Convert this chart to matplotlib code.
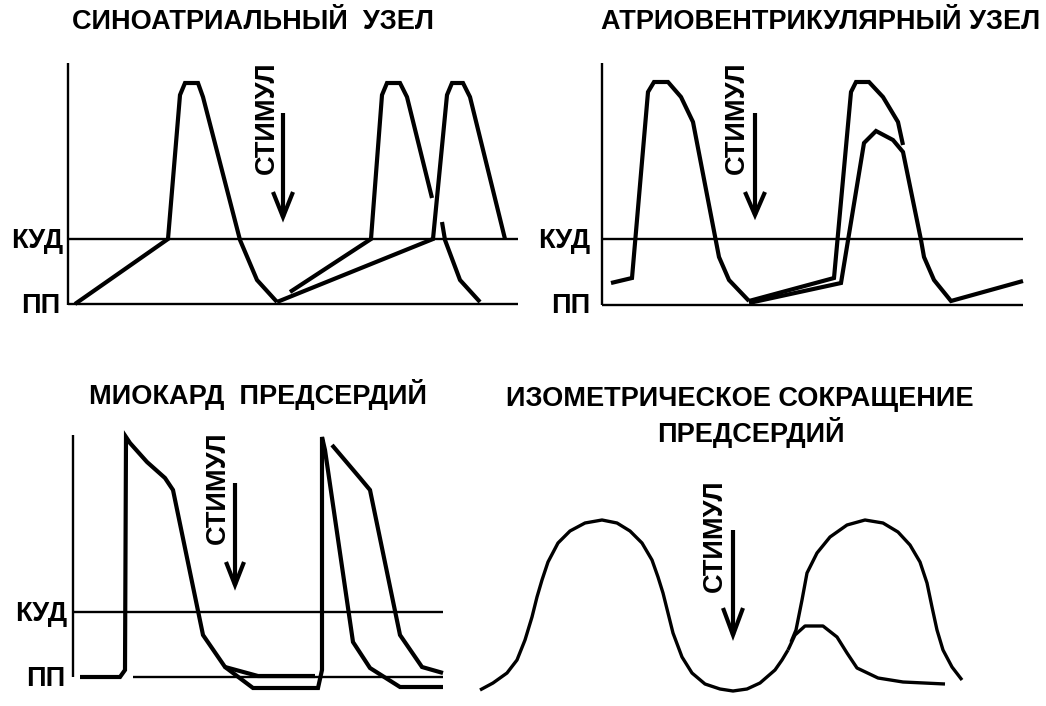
import matplotlib
matplotlib.use("Agg")
import matplotlib.pyplot as plt

plt.rcParams['font.family'] = ['Liberation Sans', 'DejaVu Sans']

# ---------------- data (pixel units, y downwards) -------------
# Panel 1: sinoatrial node
sa_axis_x = [68, 68]
sa_axis_y = [63, 305]
sa_levels_x = [68, 518]
sa_kud = 239
sa_pp = 304
sa_ap1_x = [75, 168, 180, 185, 198, 203, 240, 257, 277]
sa_ap1_y = [304, 239, 95, 83, 83, 97, 240, 280, 302]
sa_early_x = [290, 371, 382, 387, 400, 407, 432]
sa_early_y = [292, 239, 95, 83, 83, 97, 198]
sa_early_tail_x = [442, 445, 460, 480]
sa_early_tail_y = [222, 240, 280, 302]
sa_late_x = [277, 433, 447, 452, 463, 470, 505]
sa_late_y = [302, 239, 95, 83, 83, 97, 239]

# Panel 2: atrioventricular node
av_axis_x = [602, 602]
av_axis_y = [63, 305]
av_levels_x = [602, 1023]
av_kud = 239
av_pp = 305
av_ap1_x = [611, 632, 648, 654, 668, 681, 693, 719, 729, 749]
av_ap1_y = [283, 278, 92, 82, 82, 97, 122, 257, 280, 301]
av_early_x = [749, 834, 851, 856, 869, 883, 898, 903]
av_early_y = [301, 278, 92, 82, 82, 97, 122, 145]
av_late_x = [749, 841, 864, 876, 893, 903, 921, 924, 934, 951, 1023]
av_late_y = [303, 283, 143, 131, 140, 152, 240, 257, 280, 301, 281]

# Panel 3: atrial myocardium
my_axis_x = [73, 73]
my_axis_y = [435, 677]
my_kud_x = [73, 443]
my_kud = 612
my_pp_x = [133, 443]
my_pp = 677
my_ap1_x = [80, 120, 125, 126, 130, 147, 165, 173, 203, 225, 258, 315]
my_ap1_y = [677, 677, 670, 437, 443, 462, 478, 490, 635, 667, 676, 676]
my_early_x = [225, 253, 318, 322, 322, 325, 353, 370, 400, 443]
my_early_y = [667, 688, 688, 670, 437, 450, 642, 668, 687, 687]
my_late_x = [332, 360, 370, 400, 422, 443]
my_late_y = [445, 478, 490, 635, 667, 673]

# Panel 4: isometric contraction of atria
ct_main_x = [480, 493, 507, 517, 525, 532, 537, 542, 548, 558, 570, 585, 602, 617,
             630, 642, 652, 658, 663, 668, 673, 682, 692, 705, 720, 733, 747, 760,
             775, 782, 788]
ct_main_y = [690, 683, 673, 660, 640, 617, 597, 580, 562, 543, 531, 523, 520, 523,
             531, 543, 560, 577, 593, 613, 633, 657, 673, 684, 689, 691, 689, 683,
             670, 660, 650]
ct_full_x = [791, 796, 802, 807, 817, 830, 847, 865, 883, 898, 910, 920, 927, 932,
             937, 943, 952, 962]
ct_full_y = [642, 630, 600, 573, 553, 537, 525, 520, 523, 532, 545, 562, 583, 607,
             630, 650, 667, 680]
ct_part_x = [788, 795, 805, 823, 837, 847, 857, 878, 903, 945]
ct_part_y = [650, 635, 626, 626, 637, 653, 668, 678, 682, 684]

# Stimulus arrows
stim_text_x = [267, 737, 218, 715]
stim_text_y = [118, 118, 488, 536]
stim_x = [283, 755, 235, 733]
stim_top = [113, 113, 483, 530]
stim_tip = [217, 215, 585, 635]
stim_wing = [10, 10, 9, 10]
stim_wing_y = [192, 192, 562, 608]

titles = ["СИНОАТРИАЛЬНЫЙ  УЗЕЛ", "АТРИОВЕНТРИКУЛЯРНЫЙ УЗЕЛ",
          "МИОКАРД  ПРЕДСЕРДИЙ", "ИЗОМЕТРИЧЕСКОЕ СОКРАЩЕНИЕ", "ПРЕДСЕРДИЙ"]
title_x = [253, 821, 258, 740, 751]
title_y = [22, 22, 395, 399, 432]

level_labels = ["КУД", "ПП", "КУД", "ПП", "КУД", "ПП"]
level_label_x = [63, 60, 590, 590, 67, 65]
level_label_y = [241, 306, 241, 306, 614, 679]

FS = 19.5

# ---------------- drawing -----------------
fig = plt.figure(figsize=(10.46, 7.06), dpi=100)
ax = fig.add_axes([0, 0, 1, 1])
ax.set_xlim(0, 1046)
ax.set_ylim(706, 0)
ax.axis('off')

K = 'black'
CURVE_LW = 3.0
GRID_LW = 1.7

for axx, axy in [(sa_axis_x, sa_axis_y), (av_axis_x, av_axis_y), (my_axis_x, my_axis_y)]:
    ax.plot(axx, axy, color=K, lw=GRID_LW, solid_capstyle='butt')
ax.plot(sa_levels_x, [sa_kud, sa_kud], color=K, lw=GRID_LW, solid_capstyle='butt')
ax.plot(sa_levels_x, [sa_pp, sa_pp], color=K, lw=GRID_LW, solid_capstyle='butt')
ax.plot(av_levels_x, [av_kud, av_kud], color=K, lw=GRID_LW, solid_capstyle='butt')
ax.plot(av_levels_x, [av_pp, av_pp], color=K, lw=GRID_LW, solid_capstyle='butt')
ax.plot(my_kud_x, [my_kud, my_kud], color=K, lw=GRID_LW, solid_capstyle='butt')
ax.plot(my_pp_x, [my_pp, my_pp], color=K, lw=GRID_LW, solid_capstyle='butt')

for cx, cy in [(sa_ap1_x, sa_ap1_y), (sa_early_x, sa_early_y),
               (sa_early_tail_x, sa_early_tail_y), (sa_late_x, sa_late_y),
               (av_ap1_x, av_ap1_y), (av_early_x, av_early_y), (av_late_x, av_late_y),
               (my_ap1_x, my_ap1_y), (my_early_x, my_early_y), (my_late_x, my_late_y)]:
    ax.plot(cx, cy, color=K, lw=CURVE_LW, solid_joinstyle='miter', solid_capstyle='butt')

for cx, cy in [(ct_main_x, ct_main_y), (ct_full_x, ct_full_y), (ct_part_x, ct_part_y)]:
    ax.plot(cx, cy, color=K, lw=2.4, solid_joinstyle='round', solid_capstyle='butt')

for i in range(4):
    ax.plot([stim_x[i], stim_x[i]], [stim_top[i], stim_tip[i]], color=K, lw=3.0,
            solid_capstyle='butt')
    ax.plot([stim_x[i] - stim_wing[i], stim_x[i], stim_x[i] + stim_wing[i]],
            [stim_wing_y[i], stim_tip[i], stim_wing_y[i]], color=K, lw=3.0,
            solid_joinstyle='miter', solid_capstyle='butt')
    ax.text(stim_text_x[i], stim_text_y[i], "СТИМУЛ", rotation=90, ha='center',
            va='center', fontsize=FS, fontweight='bold', color=K)

for t, x, y in zip(titles, title_x, title_y):
    ax.text(x, y, t, ha='center', va='center', fontsize=FS, fontweight='bold', color=K)

for t, x, y in zip(level_labels, level_label_x, level_label_y):
    ax.text(x, y, t, ha='right', va='center', fontsize=FS, fontweight='bold', color=K)

fig.savefig("out.png", dpi=100, facecolor='white')
